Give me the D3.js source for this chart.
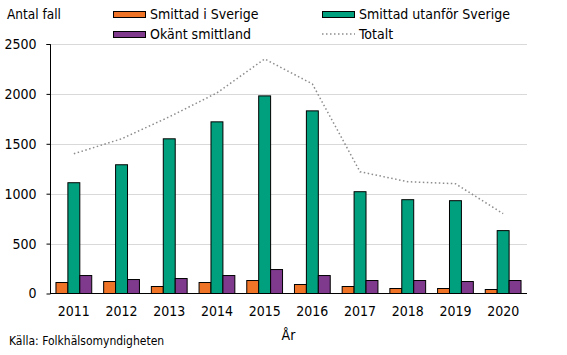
<!DOCTYPE html>
<html><head><meta charset="utf-8">
<script src="https://cdn.jsdelivr.net/npm/d3@7"></script>
<style>
body{margin:0;background:#fff;}
text{font-family:Tahoma,"DejaVu Sans Condensed","DejaVu Sans",sans-serif;fill:#000;}
</style></head><body>
<svg id="c" width="567" height="355"></svg>
<script>
const years = ["2011","2012","2013","2014","2015","2016","2017","2018","2019","2020"];
const smittadSverige = [110,120,70,110,130,90,70,50,50,40];
const smittadUtanfor = [1110,1290,1550,1720,1980,1830,1020,940,930,630];
const okantSmittland = [180,140,150,180,240,180,130,130,120,130];
const totalt = [1400,1550,1770,2010,2350,2100,1220,1120,1100,800];
const yTicks = [0,500,1000,1500,2000,2500];
const seriesNames = ["Smittad i Sverige","Smittad utanför Sverige","Okänt smittland","Totalt"];
const colors = ["#f07427","#00a07f","#7f3a8e"];

const FONT = 'Tahoma,"DejaVu Sans Condensed","DejaVu Sans",sans-serif';
const svg = d3.select("#c");
const x0 = d3.scaleBand().domain(years).range([50,527]).padding(0);
const bw = x0.bandwidth();
const keys = [0,1,2];
const x1 = d3.scaleBand().domain(keys).range([bw*0.125, bw*0.875]).padding(0);
const y = d3.scaleLinear().domain([0,2500]).range([293.5,44]);
const barSeries = [smittadSverige, smittadUtanfor, okantSmittland];

// gridlines
svg.append("g").selectAll("line").data(yTicks.filter(d=>d>0)).join("line")
  .attr("x1",50).attr("x2",527)
  .attr("y1",d=>Math.round(y(d))+0.5).attr("y2",d=>Math.round(y(d))+0.5)
  .attr("stroke","#d9d9d9").attr("stroke-width",1);

// bars
const g = svg.append("g");
years.forEach((yr,i)=>{
  keys.forEach(k=>{
    const v = barSeries[k][i];
    g.append("rect")
      .attr("x", x0(yr)+x1(k))
      .attr("y", y(v))
      .attr("width", x1.bandwidth())
      .attr("height", y(0)-y(v))
      .attr("fill", colors[k])
      .attr("stroke","#000").attr("stroke-width",1);
  });
});

// total line
const line = d3.line().x((d,i)=>x0(years[i])+bw/2).y(d=>y(d));
svg.append("path").datum(totalt).attr("d",line)
  .attr("fill","none").attr("stroke","#8c8c8c").attr("stroke-width",1.5)
  .attr("stroke-dasharray","1.5,2.5");

// y axis
const yAxis = d3.axisLeft(y).tickValues(yTicks).tickFormat(d3.format("d")).tickSize(4).tickPadding(10);
const ya = svg.append("g").attr("transform","translate(50.5,0)").call(yAxis);
ya.select(".domain").attr("stroke","#000").attr("d","M-4,44.5H0V293.5");
ya.selectAll("text").attr("font-size","14px").style("font-family",FONT);

// x axis
const xAxis = d3.axisBottom(x0).tickSize(0).tickPadding(13);
const xa = svg.append("g").attr("transform","translate(0,293.5)").call(xAxis);
xa.select(".domain").attr("stroke","#000").attr("d","M50,0H527");
xa.selectAll("text").attr("font-size","14px").style("font-family",FONT);

// titles
svg.append("text").attr("x",7).attr("y",19).attr("font-size","13.5px").text("Antal fall");
svg.append("text").attr("x",288.5).attr("y",340).attr("text-anchor","middle").attr("font-size","14px").text("År");
svg.append("text").attr("x",9).attr("y",345).attr("font-size","12px").text("Källa: Folkhälsomyndigheten");

// legend
const leg = [
  {x:113,y:11,k:0},{x:322,y:11,k:1},{x:113,y:31,k:2},{x:322,y:31,k:3}
];
leg.forEach(l=>{
  if(l.k<3){
    svg.append("rect").attr("x",l.x+0.5).attr("y",l.y+0.5).attr("width",32).attr("height",6)
      .attr("fill",colors[l.k]).attr("stroke","#000").attr("stroke-width",1);
  } else {
    svg.append("line").attr("x1",l.x).attr("x2",l.x+33).attr("y1",l.y+3).attr("y2",l.y+3)
      .attr("stroke","#8c8c8c").attr("stroke-width",1.5).attr("stroke-dasharray","1.5,2.5");
  }
  svg.append("text").attr("x",l.x+37).attr("y",l.y+7.5).attr("font-size","14px").text(seriesNames[l.k]);
});
</script>
</body></html>
